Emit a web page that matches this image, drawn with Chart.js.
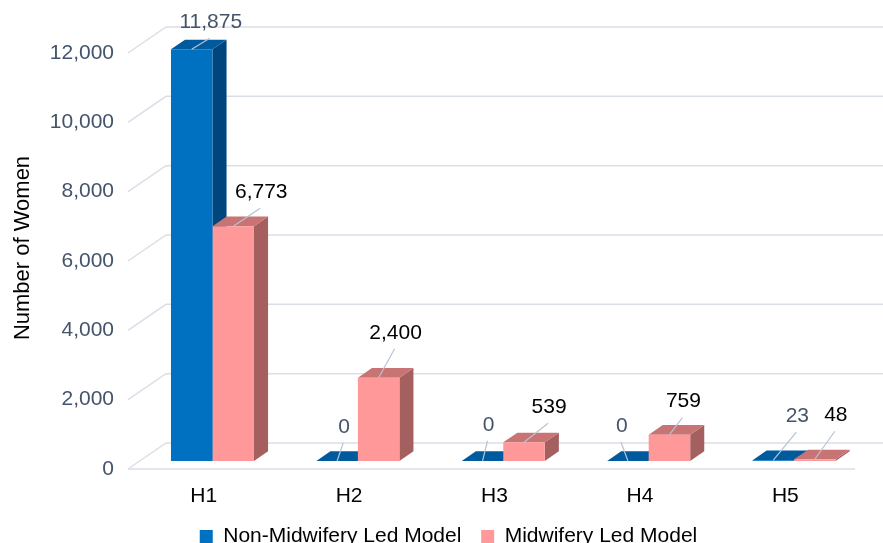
<!DOCTYPE html>
<html>
<head>
<meta charset="utf-8">
<script src="https://cdn.jsdelivr.net/npm/chart.js@4.4.1/dist/chart.umd.min.js"></script>
<style>
  html, body { margin: 0; padding: 0; background: #fff; overflow: hidden; }
  .wrap { width: 883px; height: 543px; overflow: hidden; }
</style>
</head>
<body>
<div class="wrap"><canvas id="chart" width="883" height="557"></canvas></div>
<script>
const categories = ["H1", "H2", "H3", "H4", "H5"];
const nonMidwifery = [11875, 0, 0, 0, 23];
const midwifery = [6773, 2400, 539, 759, 48];
const seriesNames = ["Non-Midwifery Led Model", "Midwifery Led Model"];
const yMax = 12000;
const yStep = 2000;

// where each value label sits, relative to the top front edge of its bar
const labelShift = [
  [[19, -27], [7, -34], [6, -36], [-6, -35], [24, -44]],
  [[28, -34], [17, -45], [25, -35], [14, -33], [21, -44]],
];

const FONT = '"Liberation Sans", Arial, Helvetica, sans-serif';
const DEPTH_X = 38, DEPTH_Y = 26;        // full floor depth
const BAR_FRONT = 0.31, BAR_BACK = 0.68; // bars sit in the middle of the floor
const faces = [
  { top: "#005a9e", side: "#00457c", label: "#44546A" },
  { top: "#c97474", side: "#a45f5f", label: "#000000" },
];

Chart.defaults.font.family = FONT;
Chart.defaults.font.size = 21;

const threeD = {
  id: "threeD",
  beforeDatasetsDraw(chart) {
    const { ctx, chartArea: a, scales: { y } } = chart;

    // back wall + side wall gridlines, floor edge
    ctx.save();
    ctx.strokeStyle = "#dadfe7";
    ctx.lineWidth = 1.5;
    y.ticks.forEach(t => {
      const py = y.getPixelForValue(t.value);
      ctx.beginPath();
      ctx.moveTo(a.left, py);
      ctx.lineTo(a.left + DEPTH_X, py - DEPTH_Y);
      ctx.lineTo(chart.width + 50, py - DEPTH_Y);
      ctx.stroke();
    });
    ctx.beginPath();
    ctx.moveTo(a.left, a.bottom);
    ctx.lineTo(a.right, a.bottom);
    ctx.stroke();
    ctx.restore();

    // everything from here to afterDatasetsDraw is in the bar plane
    ctx.save();
    ctx.translate(DEPTH_X * BAR_FRONT, -DEPTH_Y * BAR_FRONT);
    const bx = DEPTH_X * (BAR_BACK - BAR_FRONT);
    const by = -DEPTH_Y * (BAR_BACK - BAR_FRONT);

    const bars = [];
    chart.data.datasets.forEach((ds, di) => {
      chart.getDatasetMeta(di).data.forEach(el => {
        bars.push({ ...el.getProps(["x", "y", "base", "width"], true), di });
      });
    });
    bars.sort((p, q) => p.x - q.x);

    bars.forEach(b => {
      const l = b.x - b.width / 2, r = b.x + b.width / 2;
      ctx.fillStyle = faces[b.di].side;
      ctx.beginPath();
      ctx.moveTo(r, b.y);
      ctx.lineTo(r + bx, b.y + by);
      ctx.lineTo(r + bx, b.base + by);
      ctx.lineTo(r, b.base);
      ctx.closePath();
      ctx.fill();

      ctx.fillStyle = faces[b.di].top;
      ctx.beginPath();
      ctx.moveTo(l, b.y);
      ctx.lineTo(r, b.y);
      ctx.lineTo(r + bx, b.y + by);
      ctx.lineTo(l + bx, b.y + by);
      ctx.closePath();
      ctx.fill();
    });
  },
  afterDatasetsDraw(chart) {
    const { ctx } = chart;
    ctx.font = "21px " + FONT;
    ctx.textAlign = "center";
    ctx.textBaseline = "middle";
    chart.data.datasets.forEach((ds, di) => {
      chart.getDatasetMeta(di).data.forEach((el, i) => {
        const { x, y } = el.getProps(["x", "y"], true);
        const [dx, dy] = labelShift[di][i];
        const lx = x + dx, ly = y + dy;
        ctx.strokeStyle = "#b7c3d3";
        ctx.lineWidth = 1.2;
        ctx.beginPath();
        ctx.moveTo(x, y);
        ctx.lineTo(lx - 1, ly + 16);
        ctx.stroke();
        ctx.fillStyle = faces[di].label;
        ctx.fillText(ds.data[i].toLocaleString("en-US"), lx, ly);
      });
    });
    ctx.restore();
  },
  afterDraw(chart) {
    const { ctx, chartArea: a } = chart;
    ctx.save();
    ctx.translate(23, (a.top - DEPTH_Y + a.bottom) / 2);
    ctx.rotate(-Math.PI / 2);
    ctx.font = "22px " + FONT;
    ctx.fillStyle = "#000";
    ctx.textAlign = "center";
    ctx.textBaseline = "middle";
    ctx.fillText("Number of Women", 0, 0);
    ctx.restore();
  },
};

const defaultLegendLabels = Chart.defaults.plugins.legend.labels.generateLabels;

new Chart(document.getElementById("chart"), {
  type: "bar",
  data: {
    labels: categories,
    datasets: [
      { label: seriesNames[0], data: nonMidwifery, backgroundColor: "#0070C0", borderWidth: 0, clip: false },
      { label: seriesNames[1], data: midwifery, backgroundColor: "#FF9999", borderWidth: 0, clip: false },
    ],
  },
  options: {
    responsive: false,
    animation: false,
    events: [],
    categoryPercentage: 0.571,
    barPercentage: 1,
    layout: { padding: { left: 42, right: 28, top: 53, bottom: 0 } },
    plugins: {
      legend: {
        position: "bottom",
        labels: {
          boxWidth: 13,
          boxHeight: 13,
          padding: 14,
          color: "#000",
          font: { size: 21 },
          // a little extra room after the first entry
          generateLabels(chart) {
            return defaultLegendLabels(chart).map((item, i) =>
              i === 0 ? { ...item, text: item.text + " " } : item);
          },
        },
      },
      tooltip: { enabled: false },
    },
    scales: {
      x: {
        grid: { display: false, drawTicks: false },
        border: { display: false },
        ticks: { color: "#000", padding: 15, labelOffset: 3, maxRotation: 0 },
        afterFit(s) { s.height = s.chart.height - s.chart.legend.height - 469; },
      },
      y: {
        min: 0,
        max: yMax,
        grid: { display: false, drawTicks: false },
        border: { display: false },
        ticks: { stepSize: yStep, padding: 14, color: "#44546A" },
        afterFit(s) { s.width = 86; },
      },
    },
  },
  plugins: [threeD],
});
</script>
</body>
</html>
